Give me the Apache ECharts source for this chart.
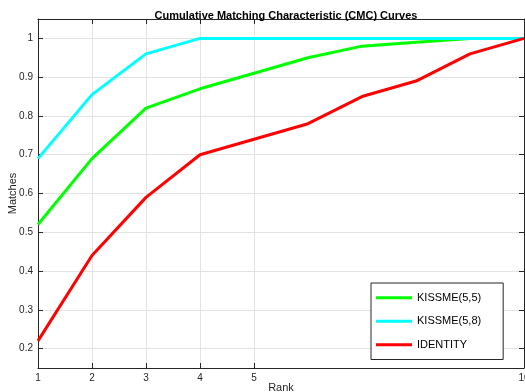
<!DOCTYPE html>
<html lang="en">
<head>
    <meta charset="UTF-8">
    <title>CMC Curves</title>
    <style type="text/css">
        html, body { margin: 0; padding: 0; background: #fff; }
        #cmcChart { width: 525px; height: 392px; }
    </style>
</head>
<body>
<div id="cmcChart"></div>
<script src="https://cdn.jsdelivr.net/npm/echarts@6/dist/echarts.min.js"></script>
<script type="text/javascript">
    // 数据
    var ranks = [1, 2, 3, 4, 5, 6, 7, 8, 9, 10];
    var kissme55 = [0.52, 0.69, 0.82, 0.87, 0.91, 0.95, 0.98, 0.99, 1.0, 1.0];
    var kissme58 = [0.69, 0.855, 0.96, 1.0, 1.0, 1.0, 1.0, 1.0, 1.0, 1.0];
    var identity = [0.22, 0.44, 0.59, 0.70, 0.74, 0.78, 0.85, 0.89, 0.96, 1.0];
    var xTicks = [1, 2, 3, 4, 5, 10];
    var yTicks = [0.2, 0.3, 0.4, 0.5, 0.6, 0.7, 0.8, 0.9, 1];

    var pairs = function (ys) {
        return ranks.map(function (r, i) { return [r, ys[i]]; });
    };

    var font = 'Liberation Sans, Arial, sans-serif';
    var axisColor = '#262626';

    var baseX = {
        type: 'value', min: 1, max: 10,
        axisLine: { show: true, onZero: false, lineStyle: { color: axisColor, width: 1 } },
        axisTick: { show: true, inside: true, length: 5, customValues: xTicks, lineStyle: { color: axisColor } }
    };
    var baseY = {
        type: 'value', min: 0.15, max: 1.05,
        axisLine: { show: true, onZero: false, lineStyle: { color: axisColor, width: 1 } },
        axisTick: { show: true, inside: true, length: 5, customValues: yTicks, lineStyle: { color: axisColor } }
    };

    var chart = echarts.init(document.getElementById('cmcChart'));
    var option = {
        animation: false,
        backgroundColor: '#fff',
        title: {
            text: 'Cumulative Matching Characteristic (CMC) Curves',
            left: 281, top: 5, textAlign: 'center',
            textStyle: { fontFamily: font, fontSize: 11, fontWeight: 'bold', color: '#000' }
        },
        grid: { left: 38, right: 1, top: 19, bottom: 24, containLabel: false, outerBoundsMode: 'none' },
        legend: {
            orient: 'vertical',
            left: 371, top: 283,
            padding: [8, 22, 8, 5],
            icon: 'rect',
            itemWidth: 36, itemHeight: 3, itemGap: 10,
            backgroundColor: '#fff',
            borderColor: axisColor, borderWidth: 1, borderRadius: 0,
            textStyle: { fontFamily: font, fontSize: 11, color: '#000', lineHeight: 13.5 },
            data: ['KISSME(5,5)', 'KISSME(5,8)', 'IDENTITY']
        },
        xAxis: [
            Object.assign({}, baseX, {
                position: 'bottom',
                name: 'Rank', nameLocation: 'middle', nameGap: 14, nameMoveOverlap: false,
                nameTextStyle: { fontFamily: font, fontSize: 11, color: axisColor, verticalAlign: 'top' },
                axisLabel: {
                    customValues: xTicks, margin: 5,
                    fontFamily: font, fontSize: 10, color: axisColor
                },
                splitLine: { show: true, lineStyle: { color: '#e3e3e3', width: 1 } }
            }),
            Object.assign({}, baseX, {
                position: 'top',
                axisLabel: { show: false },
                splitLine: { show: false }
            })
        ],
        yAxis: [
            Object.assign({}, baseY, {
                position: 'left',
                name: 'Matches', nameLocation: 'middle', nameGap: 20, nameRotate: 90, nameMoveOverlap: false,
                nameTextStyle: { fontFamily: font, fontSize: 11, color: axisColor },
                axisLabel: {
                    customValues: yTicks, margin: 5,
                    fontFamily: font, fontSize: 10, color: axisColor
                },
                splitLine: { show: true, lineStyle: { color: '#e3e3e3', width: 1 } }
            }),
            Object.assign({}, baseY, {
                position: 'right',
                axisLabel: { show: false },
                splitLine: { show: false }
            })
        ],
        series: [
            {
                name: 'KISSME(5,5)', type: 'line', symbol: 'none',
                lineStyle: { color: '#00ff00', width: 3 }, itemStyle: { color: '#00ff00' },
                data: pairs(kissme55)
            },
            {
                name: 'KISSME(5,8)', type: 'line', symbol: 'none',
                lineStyle: { color: '#00ffff', width: 3 }, itemStyle: { color: '#00ffff' },
                data: pairs(kissme58)
            },
            {
                name: 'IDENTITY', type: 'line', symbol: 'none',
                lineStyle: { color: '#ff0000', width: 3 }, itemStyle: { color: '#ff0000' },
                data: pairs(identity)
            }
        ]
    };
    chart.setOption(option);
</script>
</body>
</html>
